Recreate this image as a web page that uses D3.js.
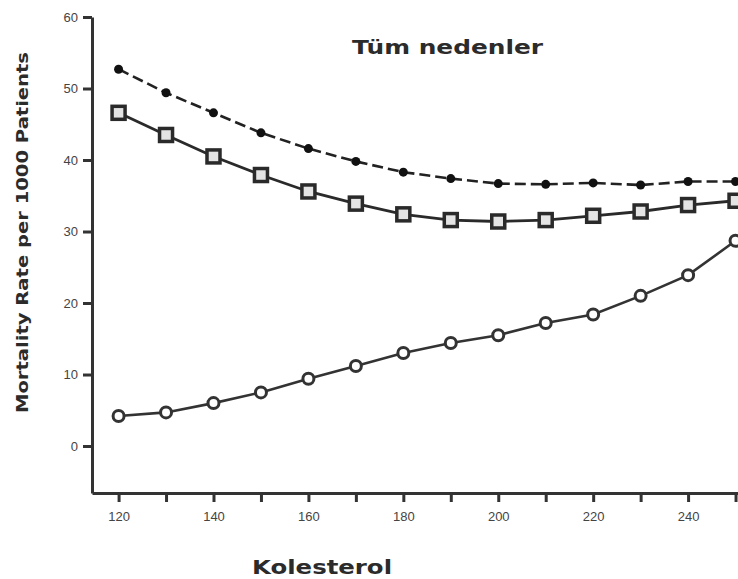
<!DOCTYPE html>
<html>
<head>
<meta charset="utf-8">
<title>Tüm nedenler</title>
<script src="https://cdn.jsdelivr.net/npm/d3@7"></script>
<style>
  body { margin: 0; background: #fff; }
  .axis path, .axis line { stroke: #333; stroke-width: 3; fill: none; }
  .axis text { font: 13px "Liberation Sans", Arial, sans-serif; fill: #444; }
  .lbl { font-family: "DejaVu Sans", sans-serif; font-weight: bold; fill: #2b2b2b; }
</style>
</head>
<body>
<svg id="chart" width="738" height="579"></svg>
<script>
// cholesterol levels (x)
var kolesterol = [120, 130, 140, 150, 160, 170, 180, 190, 200, 210, 220, 230, 240, 250];
// series
var dotSeries    = [52.7, 49.4, 46.6, 43.8, 41.6, 39.8, 38.3, 37.4, 36.7, 36.6, 36.8, 36.5, 37.0, 37.0];
var squareSeries = [46.6, 43.5, 40.5, 37.9, 35.6, 33.9, 32.4, 31.6, 31.4, 31.6, 32.2, 32.8, 33.7, 34.3];
var circleSeries = [4.2, 4.7, 6.0, 7.5, 9.4, 11.2, 13.0, 14.4, 15.5, 17.2, 18.4, 21.0, 23.9, 28.7];
var yTicks = [0, 10, 20, 30, 40, 50, 60];
var xTicks = [120, 130, 140, 150, 160, 170, 180, 190, 200, 210, 220, 230, 240, 250];

var svg = d3.select("#chart");

var x = d3.scaleLinear().domain([114.4, 260]).range([92, 783]);
var y = d3.scaleLinear().domain([-6.57, 60]).range([493, 17]);

svg.append("clipPath").attr("id", "clip")
  .append("rect").attr("x", 0).attr("y", 0).attr("width", 738).attr("height", 579);

svg.append("g")
  .attr("class", "axis")
  .attr("transform", "translate(92,0)")
  .call(d3.axisLeft(y).tickValues(yTicks).tickSize(9).tickPadding(5).tickSizeOuter(0));

svg.append("g")
  .attr("class", "axis")
  .attr("transform", "translate(0,493)")
  .call(d3.axisBottom(x).tickValues(xTicks).tickSize(9).tickPadding(10).tickSizeOuter(0)
    .tickFormat(function(d){ return d % 20 === 0 ? d : ""; }));

var plot = svg.append("g").attr("clip-path", "url(#clip)");

function pts(vals) {
  return kolesterol.map(function(k, i){ return [k, vals[i]]; });
}
var line = d3.line().x(function(d){ return x(d[0]); }).y(function(d){ return y(d[1]); });

// dotted series (dashed line, filled dots)
plot.append("path").datum(pts(dotSeries))
  .attr("d", line).attr("fill", "none").attr("stroke", "#222")
  .attr("stroke-width", 2.6).attr("stroke-dasharray", "11,5");
plot.selectAll(".dot").data(pts(dotSeries)).enter().append("circle")
  .attr("class", "dot")
  .attr("cx", function(d){ return x(d[0]); })
  .attr("cy", function(d){ return y(d[1]); })
  .attr("r", 4.5).attr("fill", "#111");

// squares series
plot.append("path").datum(pts(squareSeries))
  .attr("d", line).attr("fill", "none").attr("stroke", "#2a2a2a").attr("stroke-width", 2.8);
plot.selectAll(".sq").data(pts(squareSeries)).enter().append("rect")
  .attr("class", "sq")
  .attr("x", function(d){ return x(d[0]) - 6.5; })
  .attr("y", function(d){ return y(d[1]) - 6.5; })
  .attr("width", 13).attr("height", 13)
  .attr("fill", "#e4e4e4").attr("stroke", "#2a2a2a").attr("stroke-width", 3.5);

// circles series
plot.append("path").datum(pts(circleSeries))
  .attr("d", line).attr("fill", "none").attr("stroke", "#333").attr("stroke-width", 2.6);
plot.selectAll(".oc").data(pts(circleSeries)).enter().append("circle")
  .attr("class", "oc")
  .attr("cx", function(d){ return x(d[0]); })
  .attr("cy", function(d){ return y(d[1]); })
  .attr("r", 5.5).attr("fill", "#fff").attr("stroke", "#333").attr("stroke-width", 3);

// labels
svg.append("text").attr("class", "lbl")
  .attr("x", 352).attr("y", 54).attr("font-size", 19)
  .attr("textLength", 191).attr("lengthAdjust", "spacingAndGlyphs")
  .text("Tüm nedenler");

svg.append("text").attr("class", "lbl")
  .attr("x", 252).attr("y", 574).attr("font-size", 19)
  .attr("textLength", 140).attr("lengthAdjust", "spacingAndGlyphs")
  .text("Kolesterol");

svg.append("text").attr("class", "lbl")
  .attr("transform", "translate(28,413) rotate(-90)")
  .attr("font-size", 15)
  .attr("textLength", 361).attr("lengthAdjust", "spacingAndGlyphs")
  .text("Mortality Rate per 1000 Patients");
</script>
</body>
</html>
